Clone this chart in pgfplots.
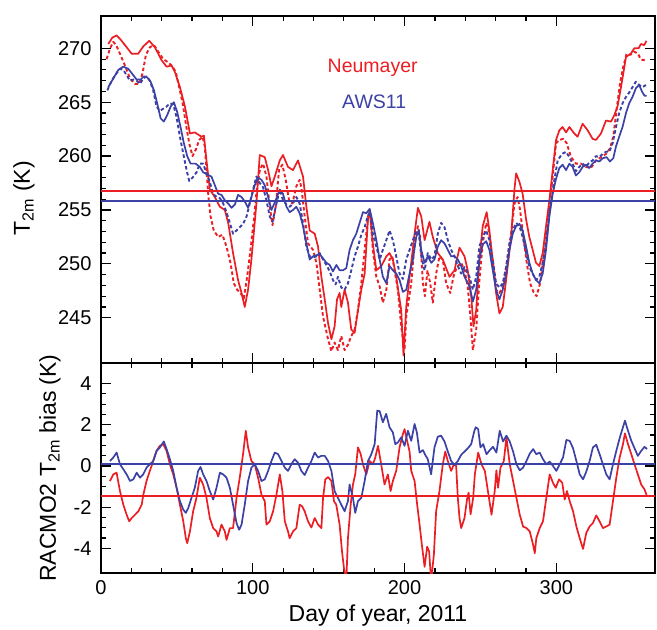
\documentclass[border=0pt]{standalone}
\usepackage{fontspec}
\setmainfont{Liberation Sans}
\usepackage{pgfplots}
\pgfplotsset{compat=1.18}
\definecolor{myred}{RGB}{235,30,35}
\definecolor{myblue}{RGB}{60,65,165}
\begin{document}
\begin{tikzpicture}
\useasboundingbox (-101pt,16pt) rectangle (556pt,-614pt);
\pgfplotsset{
 every axis/.append style={
  scale only axis, width=554pt, xmin=0, xmax=365,
  xtick={0,100,200,300}, minor x tick num=4,
  tick align=inside, major tick length=10pt, minor tick length=5pt,
  axis line style={line width=1.3pt},
  every tick/.style={black, line width=1.2pt},
  /pgf/number format/assume math mode=true,
  tick label style={font=\fontsize{20}{24}\selectfont},
  yticklabel style={xshift=-6pt},
  xticklabel style={yshift=-4pt},
  label style={font=\fontsize{23}{27}\selectfont},
 },
 sol/.style={line width=1.7pt, line join=round},
 dsh/.style={line width=1.9pt, line join=round, dash pattern=on 3.5pt off 2.5pt},
 hl/.style={line width=2pt},
}
\begin{axis}[name=top, at={(0,0)}, anchor=north west, height=347pt,
  ymin=240.8, ymax=273, ytick={245,250,...,270}, minor y tick num=4,
  xticklabels={}, ylabel={T\textsubscript{2m} (K)},
  ylabel style={at={(axis description cs:-0.139,0.475)}, anchor=center}]
% red solid
\addplot[myred, sol] coordinates {
(4.8,270.4) (7.5,271.0) (10.3,271.2) (13,270.8) (15.8,270.3) (20.2,269.5) (24.5,269.5) (28,270.2) (31.8,270.7) (35.5,270.1) (39.9,268.9) (43.2,268.3) (46.5,268.4) (48.7,267.8) (52,266.4) (55.3,264.6) (58.6,262.1) (61.8,262.2) (66.2,261.8) (67.8,261.9) (69.5,259.6) (71.7,256.9) (75,256.2) (78.3,255.3) (81.6,255.0) (83.8,253.8) (87.0,251.0) (90.3,248.5) (92.6,247.3) (94.7,246.0) (96.9,247.6) (99.1,250.4) (102.4,255.6) (104.6,260.1) (107.9,259.9) (110.1,258.7) (112.3,257.2) (114.5,258.1) (117.8,259.6) (119.9,260.1) (123.2,259.0) (126.5,258.7) (129.8,259.6) (133.1,258.1) (135.3,255.3) (137.5,253.1) (140.8,252.8) (143.0,251.6) (145.2,248.8) (147.4,246.7) (149.6,244.5) (151.8,243.0) (153.9,244.2) (155.5,246.7) (157.2,247.3) (158.3,246.0) (160.5,247.6) (162.7,246.4) (164.9,243.9) (167.1,243.6) (169.3,245.7) (171.5,247.6) (173.7,249.1) (175.9,254.1) (177.0,255.0) (179.1,251.9) (181.4,249.4) (184.7,249.8) (188.0,250.7) (190.1,251.0) (192.3,250.4) (194.5,248.8) (197.8,245.7) (199.3,241.5) (201.1,246.0) (203.3,248.8) (206.6,252.8) (208.8,255.2) (211.0,254.4) (213.2,252.2) (216.4,253.9) (218.6,252.5) (221.9,251.0) (225.2,250.4) (229.6,248.8) (232.9,249.4) (236.2,251.5) (239.5,250.7) (241.6,249.4) (243.9,247.0) (245.4,244.2) (247.2,245.7) (249.3,250.4) (251.5,253.5) (254.1,254.8) (255.9,253.1) (258.1,250.1) (260.3,247.3) (262.5,245.4) (264.7,246.0) (266.9,248.5) (270.2,252.5) (272.4,256.9) (273.5,258.4) (275.7,257.6) (277.8,256.5) (280.1,254.1) (282.2,252.5) (284.4,251.3) (286.6,250.1) (288.8,249.8) (291.0,251.0) (293.2,253.5) (295.4,255.9) (297.6,258.7) (299.8,261.5) (302.0,262.4) (304.1,262.7) (306.4,262.2) (308.6,262.7) (311.8,262.1) (314.0,261.8) (317.3,263.0) (320.6,262.4) (323.9,261.6) (326.1,261.5) (329.4,262.1) (332.7,263.3) (336.0,263.2) (338.2,263.8) (340.3,264.6) (342.6,266.4) (345.9,269.2) (349.1,269.5) (351.3,270.0) (354.2,270.0) (355.7,270.4) (357.9,270.3) (359.4,270.7)
};
% red dashed
\addplot[myred, dsh] coordinates {
(3.7,269.0) (6,270.0) (8.1,270.6) (10,270.3) (12.5,269.5) (15.8,268.4) (19.1,267.2) (22.4,266.7) (25.2,266.7) (27.4,267.7) (29.6,269.4) (32.2,270.1) (34.9,270.3) (37.7,269.7) (41.0,269.0) (44.3,268.7) (47.2,268.3) (49.3,267.8) (51.5,266.4) (53.8,264.9) (55.9,263.0) (58.1,261.2) (60.3,260.0) (62.5,260.6) (64.7,261.5) (66.9,261.8) (68.4,260.9) (69.5,258.7) (70.8,256.2) (72.2,254.4) (74.3,253.1) (77.2,252.5) (80.0,252.7) (82.7,251.6) (85.3,250.1) (87.5,248.2) (89.7,247.6) (91.9,247.3) (94.1,246.8) (96.3,248.8) (98.5,251.3) (100.7,254.1) (102.8,257.2) (104.8,258.8) (106.8,259.3) (109.0,258.1) (111.2,255.3) (113.0,253.6) (115.1,255.3) (117.3,258.7) (119.5,259.2) (121.7,257.8) (123.9,255.9) (126.1,255.6) (128.7,257.2) (130.9,257.8) (132.2,256.9) (134.2,254.4) (136.4,251.9) (139.7,251.3) (141.9,250.1) (144.1,247.6) (146.3,245.1) (149.6,243.0) (151.8,241.9) (153.9,242.7) (156.1,242.0) (158.3,243.3) (160.5,242.0) (162.7,242.5) (164.9,243.3) (167.1,243.9) (169.3,245.7) (171.5,248.2) (173.7,251.3) (175.9,254.4) (177.4,254.7) (179.1,251.3) (181.4,248.8) (183.6,247.9) (185.7,246.4) (188.0,247.6) (190.1,250.4) (191.9,250.7) (193.4,249.4) (195.6,247.6) (197.8,244.2) (200.0,242.0) (201.1,245.1) (204.4,248.2) (206.6,251.9) (208.8,253.5) (210.3,252.5) (212.1,248.2) (213.4,247.0) (215.1,249.4) (216.9,248.2) (218.6,246.4) (220.8,249.1) (223.0,250.7) (225.2,250.4) (227.4,248.2) (230.1,247.3) (232.2,248.8) (234.4,249.7) (237.3,250.1) (239.5,249.4) (241.6,247.9) (243.4,245.1) (245.0,242.0) (247.2,243.9) (249.3,248.5) (251.5,251.9) (253.8,253.8) (255.5,253.1) (258.1,250.4) (260.3,247.6) (262.5,247.3) (264.7,247.9) (266.9,249.7) (270.2,252.8) (272.4,255.6) (274.5,256.2) (276.1,255.0) (278.3,252.5) (280.5,250.1) (282.7,248.2) (284.9,247.4) (287.0,247.0) (289.3,248.2) (291.4,250.4) (293.6,252.8) (295.9,255.9) (298.0,258.7) (299.8,261.2) (302.0,261.5) (304.6,261.6) (306.8,261.2) (309.7,259.9) (312.9,259.3) (316.2,259.3) (319.5,259.0) (322.8,258.9) (326.1,259.6) (329.4,259.9) (332.7,260.2) (335.3,260.7) (337.5,261.8) (339.7,264.3) (341.9,266.7) (344.1,268.3) (346.3,269.5) (348.9,269.4) (351.1,269.7) (353.8,269.5) (355.5,269.0) (357.2,268.9) (359.0,269.0)
};
% blue solid
\addplot[myblue, sol] coordinates {
(4.8,266.4) (8.1,267.2) (11.4,268.0) (14.7,268.3) (18.0,268.1) (20.2,267.7) (23.5,267.1) (26.1,267.1) (28.3,267.4) (30.5,267.3) (32.7,266.9) (34.9,266.1) (37.0,264.9) (39.3,263.5) (41.4,263.2) (43.6,263.8) (45.9,264.6) (48.0,265.0) (50.2,264.1) (52.4,262.7) (54.6,261.2) (56.8,260.0) (59.0,259.3) (62.3,259.3) (65.1,259.0) (67.3,258.5) (69.9,258.3) (72.8,258.1) (75.0,257.3) (77.2,256.5) (79.4,256.4) (81.6,255.9) (83.8,255.6) (86.0,255.2) (88.2,255.5) (90.3,256.4) (92.6,256.2) (94.7,255.8) (96.9,255.2) (99.1,256.2) (101.3,257.3) (103.5,258.0) (105.7,257.8) (107.9,257.3) (110.1,256.2) (112.3,255.0) (115.1,255.9) (117.8,256.9) (119.9,256.5) (122.2,255.3) (124.3,254.8) (126.5,255.0) (128.7,255.3) (130.9,254.7) (133.1,253.5) (135.3,251.9) (137.5,250.4) (139.7,250.7) (141.9,250.8) (144.1,250.9) (146.3,250.5) (148.5,250.1) (150.7,249.9) (152.8,249.3) (155.1,249.9) (157.2,249.4) (159.4,249.4) (161.6,249.6) (163.8,251.3) (166.0,252.2) (168.2,252.8) (170.4,253.8) (172.6,254.8) (174.8,254.7) (177.0,255.1) (179.1,253.8) (181.4,252.2) (183.6,250.4) (185.7,248.8) (188.0,248.2) (190.1,249.8) (192.3,249.4) (194.5,249.1) (196.7,248.5) (198.9,247.4) (201.1,247.6) (203.3,249.1) (205.5,250.4) (207.7,252.5) (209.4,253.1) (211.0,251.3) (213.2,250.1) (215.3,250.7) (217.6,250.1) (219.7,250.4) (221.9,251.6) (224.1,252.2) (226.3,251.9) (228.5,251.3) (230.7,250.7) (232.9,250.7) (235.1,250.4) (237.3,249.8) (239.5,248.8) (242.8,247.9) (245.0,246.5) (247.2,247.6) (249.3,250.4) (251.5,251.8) (253.8,252.1) (255.9,251.3) (258.1,249.4) (260.3,247.6) (262.5,246.7) (264.7,247.6) (266.9,249.1) (269.1,251.3) (271.3,252.8) (273.5,253.5) (275.7,253.7) (277.8,253.1) (280.1,251.6) (282.2,250.1) (284.4,249.1) (286.6,248.5) (288.8,248.2) (291.0,249.1) (293.2,251.3) (295.4,254.4) (297.6,256.5) (299.8,257.9) (302.0,258.9) (304.1,259.2) (306.4,258.7) (308.6,259.3) (310.7,259.0) (312.9,258.2) (315.1,258.5) (317.3,259.0) (319.5,259.2) (321.7,258.9) (323.9,259.3) (326.1,259.6) (328.3,259.5) (330.5,259.8) (333.1,259.9) (335.3,259.5) (337.5,259.8) (339.3,260.9) (341.4,261.8) (343.6,262.7) (345.9,264.0) (348.0,264.9) (350.2,265.5) (352.4,266.3) (354.6,266.6) (356.4,266.0) (358.1,265.6) (359.4,265.6)
};
% blue dashed
\addplot[myblue, dsh] coordinates {
(4.2,266.1) (7.0,267.0) (10.3,267.7) (12.5,268.1) (14.7,268.0) (16.9,267.5) (19.1,267.0) (21.3,267.1) (23.5,267.0) (25.7,266.7) (27.8,267.2) (30.0,267.4) (32.2,267.0) (34.4,266.1) (36.6,264.6) (38.8,264.2) (41.0,264.4) (43.2,264.6) (45.4,264.9) (47.6,264.8) (49.8,263.6) (52.0,261.8) (54.1,260.3) (56.4,258.7) (58.1,257.7) (60.3,258.0) (63.0,258.5) (65.1,259.3) (67.3,259.3) (69.5,258.4) (71.7,257.6) (73.9,256.5) (76.1,256.2) (78.3,256.1) (80.5,255.6) (82.7,254.8) (84.9,253.8) (87.0,252.8) (89.3,253.1) (91.4,253.4) (93.6,253.7) (95.9,254.4) (98.0,255.6) (100.2,256.9) (102.4,258.1) (104.6,257.5) (106.8,257.1) (109.0,255.9) (111.2,254.4) (113.0,253.9) (115.1,255.3) (117.8,256.9) (119.9,255.9) (122.2,255.5) (124.3,255.3) (126.5,255.6) (128.7,256.2) (130.9,255.6) (133.1,253.8) (135.3,251.6) (137.5,250.7) (139.7,250.6) (141.9,250.7) (144.1,251.0) (146.3,250.4) (148.5,249.9) (150.7,249.3) (152.8,248.5) (154.6,248.1) (156.1,248.8) (158.3,247.8) (160.5,247.6) (162.7,248.2) (164.9,249.4) (167.1,250.7) (169.3,251.6) (171.5,252.7) (173.7,253.4) (175.9,254.5) (177.4,254.8) (179.1,252.8) (181.4,251.6) (183.6,250.4) (185.7,251.3) (188.0,252.2) (190.1,253.1) (192.3,252.2) (194.5,250.7) (196.7,249.1) (198.9,248.6) (201.1,250.4) (203.3,251.3) (205.5,252.2) (207.7,253.1) (209.4,252.8) (211.0,250.7) (213.2,249.4) (215.3,251.0) (217.6,250.4) (219.7,250.7) (221.9,252.8) (224.1,253.8) (226.3,253.4) (228.5,252.2) (230.7,251.3) (232.9,250.7) (235.1,249.8) (237.3,249.1) (239.5,249.7) (242.8,248.8) (245.0,247.6) (247.2,248.8) (249.3,251.6) (251.5,252.5) (253.8,253.1) (255.9,252.2) (258.1,250.4) (260.3,248.2) (262.5,247.8) (264.7,248.2) (266.9,249.7) (269.1,251.9) (271.3,253.1) (273.5,253.8) (275.7,253.5) (277.8,252.5) (280.1,251.0) (282.2,249.7) (284.4,249.1) (286.6,248.5) (288.8,248.8) (291.0,250.1) (293.2,251.9) (295.4,254.7) (297.6,256.9) (299.8,258.7) (300.9,259.6) (303.7,260.2) (306.4,260.4) (308.6,259.9) (310.7,259.3) (312.9,258.6) (315.1,259.0) (317.3,259.3) (319.5,259.0) (321.7,259.4) (323.9,259.6) (326.1,260.0) (328.3,259.9) (330.5,260.2) (332.7,260.4) (334.9,260.4) (337.1,261.2) (339.3,262.7) (341.4,264.0) (343.6,264.9) (345.9,265.5) (348.0,265.9) (350.2,266.4) (352.4,266.9) (354.6,266.6) (356.8,266.4) (359.0,266.6)
};
\addplot[myred, hl] coordinates {(0,256.75) (365,256.75)};
\addplot[myblue, hl] coordinates {(0,255.85) (365,255.85)};
\node[myred, font=\fontsize{19.5}{23}\selectfont] at (axis cs:179,268.15) {Neumayer};
\node[myblue, font=\fontsize{19.5}{23}\selectfont] at (axis cs:180,265.0) {AWS11};
\end{axis}
\begin{axis}[at={(top.south west)}, anchor=north west, height=210pt,
  ymin=-5.2, ymax=5, ytick={-4,-2,...,4}, minor y tick num=3,
  xlabel={Day of year, 2011}, ylabel={RACMO2 T\textsubscript{2m} bias (K)},
  ylabel style={at={(axis description cs:-0.092,0.5)}, anchor=center},
  xlabel style={yshift=-3pt}]
% red bias
\addplot[myred, sol] coordinates {
(5.9,-0.73) (8.1,-0.41) (10.3,-0.33) (12.5,-1.22) (14.7,-1.88) (16.9,-2.37) (18.6,-2.69) (20.2,-2.53) (22.4,-2.37) (24.6,-2.20) (26.8,-1.88) (27.9,-1.39) (30.0,-0.73) (32.2,-0.24) (34.4,0.24) (36.6,0.73) (38.8,0.98) (41.0,1.06) (43.2,0.73) (45.4,0.08) (47.6,-0.41) (49.8,-1.06) (52.0,-1.88) (54.2,-2.69) (55.9,-3.51) (56.8,-3.75) (58.6,-3.18) (60.7,-2.20) (62.9,-1.55) (65.1,-0.57) (67.3,-0.90) (69.5,-1.55) (71.7,-2.53) (73.9,-3.02) (76.1,-3.18) (77.2,-3.43) (79.4,-2.85) (81.6,-3.18) (82.7,-3.59) (84.9,-3.02) (87.0,-3.02) (89.3,-1.55) (91.4,-0.57) (93.6,0.57) (95.4,1.71) (96.9,0.90) (99.1,0.24) (101.3,0.08) (103.5,-0.57) (105.7,-1.39) (107.9,-1.71) (109.0,-2.85) (111.2,-2.69) (113.4,-2.20) (115.6,-1.39) (117.8,-0.41) (119.5,-1.22) (121.1,-2.69) (123.2,-3.18) (124.3,-3.51) (126.5,-3.18) (128.7,-3.02) (130.9,-1.88) (132.5,-1.96) (134.2,-2.20) (136.4,-2.69) (138.6,-2.99) (140.8,-2.53) (143.0,-2.85) (145.2,-3.02) (146.3,-1.55) (147.8,-0.65) (149.6,-0.54) (151.8,-0.73) (153.5,-1.71) (155.0,-1.88) (157.2,-2.85) (158.8,-4.16) (160.1,-4.98) (161.6,-5.6) (162.7,-3.51) (164.5,-1.88) (166.0,-0.90) (167.5,-0.41) (169.3,0.90) (171.0,0.60) (172.6,0.08) (174.8,-0.41) (177.0,0.24) (179.2,0.08) (180.7,0.41) (182.5,0.98) (184.6,0.08) (186.8,-0.90) (189.0,-0.41) (190.8,-1.22) (192.3,-0.73) (194.5,-0.24) (196.7,0.90) (198.9,1.55) (200.0,1.79) (202.2,1.06) (203.3,0.70) (204.4,-0.24) (206.6,-0.73) (208.3,-1.88) (209.9,-2.85) (211.4,-3.83) (213.2,-4.9) (214.9,-3.92) (216.2,-4.16) (217.5,-5.6) (219.3,-4.32) (220.8,-2.20) (223.0,-1.22) (225.2,0.08) (226.8,0.70) (228.5,0.24) (230.7,-0.24) (232.5,0.08) (234.0,0.00) (235.1,-1.55) (236.2,-2.53) (237.3,-3.02) (239.5,-2.53) (241.2,-1.6) (242.2,-1.3) (243.5,-2.35) (245.2,-1.55) (246.3,-0.41) (248.5,0.65) (250.7,0.08) (252.9,-0.24) (255.1,-1.31) (257.3,-2.37) (259.4,-1.22) (260.5,-0.21) (261.6,-1.06) (263.2,-0.08) (265.4,0.24) (267.1,1.39) (269.3,0.08) (271.5,-0.73) (273.7,-1.55) (275.9,-2.37) (278.1,-2.94) (280.3,-3.02) (282.5,-3.18) (284.7,-3.83) (285.8,-4.24) (286.8,-3.51) (289.0,-3.02) (291.2,-2.69) (293.4,-1.55) (295.6,-0.41) (297.8,-0.82) (299.6,-1.06) (301.8,-0.65) (303.9,-0.82) (305.5,-1.63) (307.0,-1.22) (308.8,-1.71) (311.0,-2.20) (313.2,-2.94) (315.4,-3.51) (317.6,-4.03) (319.7,-3.26) (321.9,-2.94) (324.1,-2.77) (326.3,-2.40) (328.5,-2.69) (330.7,-3.02) (332.9,-2.94) (335.1,-2.85) (337.3,-1.71) (339.5,-0.57) (341.7,0.41) (343.9,1.06) (345.2,1.58) (347.2,1.06) (349.4,0.57) (351.5,0.08) (353.7,-0.41) (355.9,-0.90) (358.1,-1.14) (359.7,-1.47)
};
% blue bias
\addplot[myblue, sol] coordinates {
(5.9,0.24) (8.1,0.41) (10.3,0.65) (12.5,0.08) (14.7,-0.16) (16.9,-0.41) (19.1,-0.73) (21.3,-0.65) (23.5,-0.33) (25.7,-0.57) (27.8,-0.41) (30.0,-0.08) (32.2,0.08) (34.4,0.24) (36.6,0.73) (38.8,0.90) (41.4,1.19) (43.2,0.82) (45.4,0.33) (47.6,-0.24) (49.8,-1.06) (52.0,-1.71) (54.2,-2.12) (55.9,-2.28) (57.5,-2.04) (59.6,-1.55) (61.8,-1.06) (64.0,-0.24) (65.6,-0.05) (67.3,-0.41) (69.5,-0.73) (71.7,-1.22) (73.9,-1.63) (76.1,-1.06) (78.3,-0.33) (80.5,-0.41) (82.7,-0.57) (84.9,-1.06) (87.0,-1.88) (89.3,-2.77) (91.0,-3.10) (92.6,-2.85) (94.7,-1.88) (96.9,-0.73) (99.1,-0.08) (101.3,0.08) (103.5,-0.24) (105.7,-0.73) (107.9,-0.65) (110.1,-0.24) (112.3,0.24) (114.5,0.65) (116.7,0.57) (118.9,0.24) (121.1,-0.08) (123.2,-0.24) (125.4,0.08) (127.6,0.33) (129.8,0.16) (132.0,-0.24) (134.2,-0.44) (136.4,-0.08) (138.6,0.24) (140.8,0.65) (143.0,0.41) (145.2,0.49) (147.4,0.49) (149.6,0.24) (151.8,-0.24) (153.9,-1.22) (156.1,-1.55) (158.3,-1.88) (160.5,-2.20) (162.7,-1.71) (163.8,-0.90) (166.0,-1.55) (167.5,-2.28) (169.3,-1.71) (171.5,-1.55) (173.7,-0.73) (175.9,0.24) (178.1,0.57) (180.3,1.06) (182.0,2.69) (183.6,2.66) (185.7,2.12) (187.9,2.53) (190.1,1.88) (192.3,1.63) (193.9,1.06) (195.6,1.14) (197.8,1.39) (200.0,0.98) (202.2,1.71) (204.4,1.22) (206.6,2.04) (208.1,1.63) (209.9,0.65) (212.1,0.77) (213.6,0.54) (215.3,0.33) (217.5,-0.41) (219.7,0.90) (221.9,1.42) (224.1,1.47) (226.3,1.19) (228.5,0.70) (230.7,0.24) (232.9,0.05) (235.1,0.24) (237.3,0.54) (239.5,0.70) (241.7,0.86) (243.9,1.06) (246.0,1.71) (246.9,1.88) (248.5,1.79) (250.0,0.90) (251.8,1.06) (254.0,0.57) (256.2,0.77) (258.3,0.93) (260.5,0.65) (262.7,1.71) (264.9,1.19) (267.1,1.47) (269.3,1.19) (271.5,0.70) (273.7,0.08) (275.9,-0.21) (278.1,-0.08) (280.3,0.24) (282.5,0.60) (284.7,0.82) (286.8,0.57) (289.0,0.65) (291.2,0.33) (293.4,0.08) (295.6,0.21) (297.8,0.00) (300.0,-0.24) (302.2,0.08) (304.4,0.41) (306.6,1.26) (308.8,1.22) (311.0,0.86) (313.2,0.24) (315.4,-0.41) (317.6,-0.65) (319.7,-0.28) (321.9,0.24) (324.1,0.90) (326.3,1.03) (328.5,0.57) (330.7,0.08) (332.9,-0.41) (335.1,-0.65) (337.3,0.08) (339.5,0.73) (341.7,1.35) (343.9,1.88) (345.2,2.20) (347.2,1.71) (349.4,1.22) (351.5,0.86) (353.7,0.49) (355.9,0.73) (358.1,0.93) (359.7,0.82)
};
\addplot[myblue, hl] coordinates {(0,0.11) (365,0.11)};
\addplot[myred, hl] coordinates {(0,-1.47) (365,-1.47)};
\end{axis}
\end{tikzpicture}
\end{document}
